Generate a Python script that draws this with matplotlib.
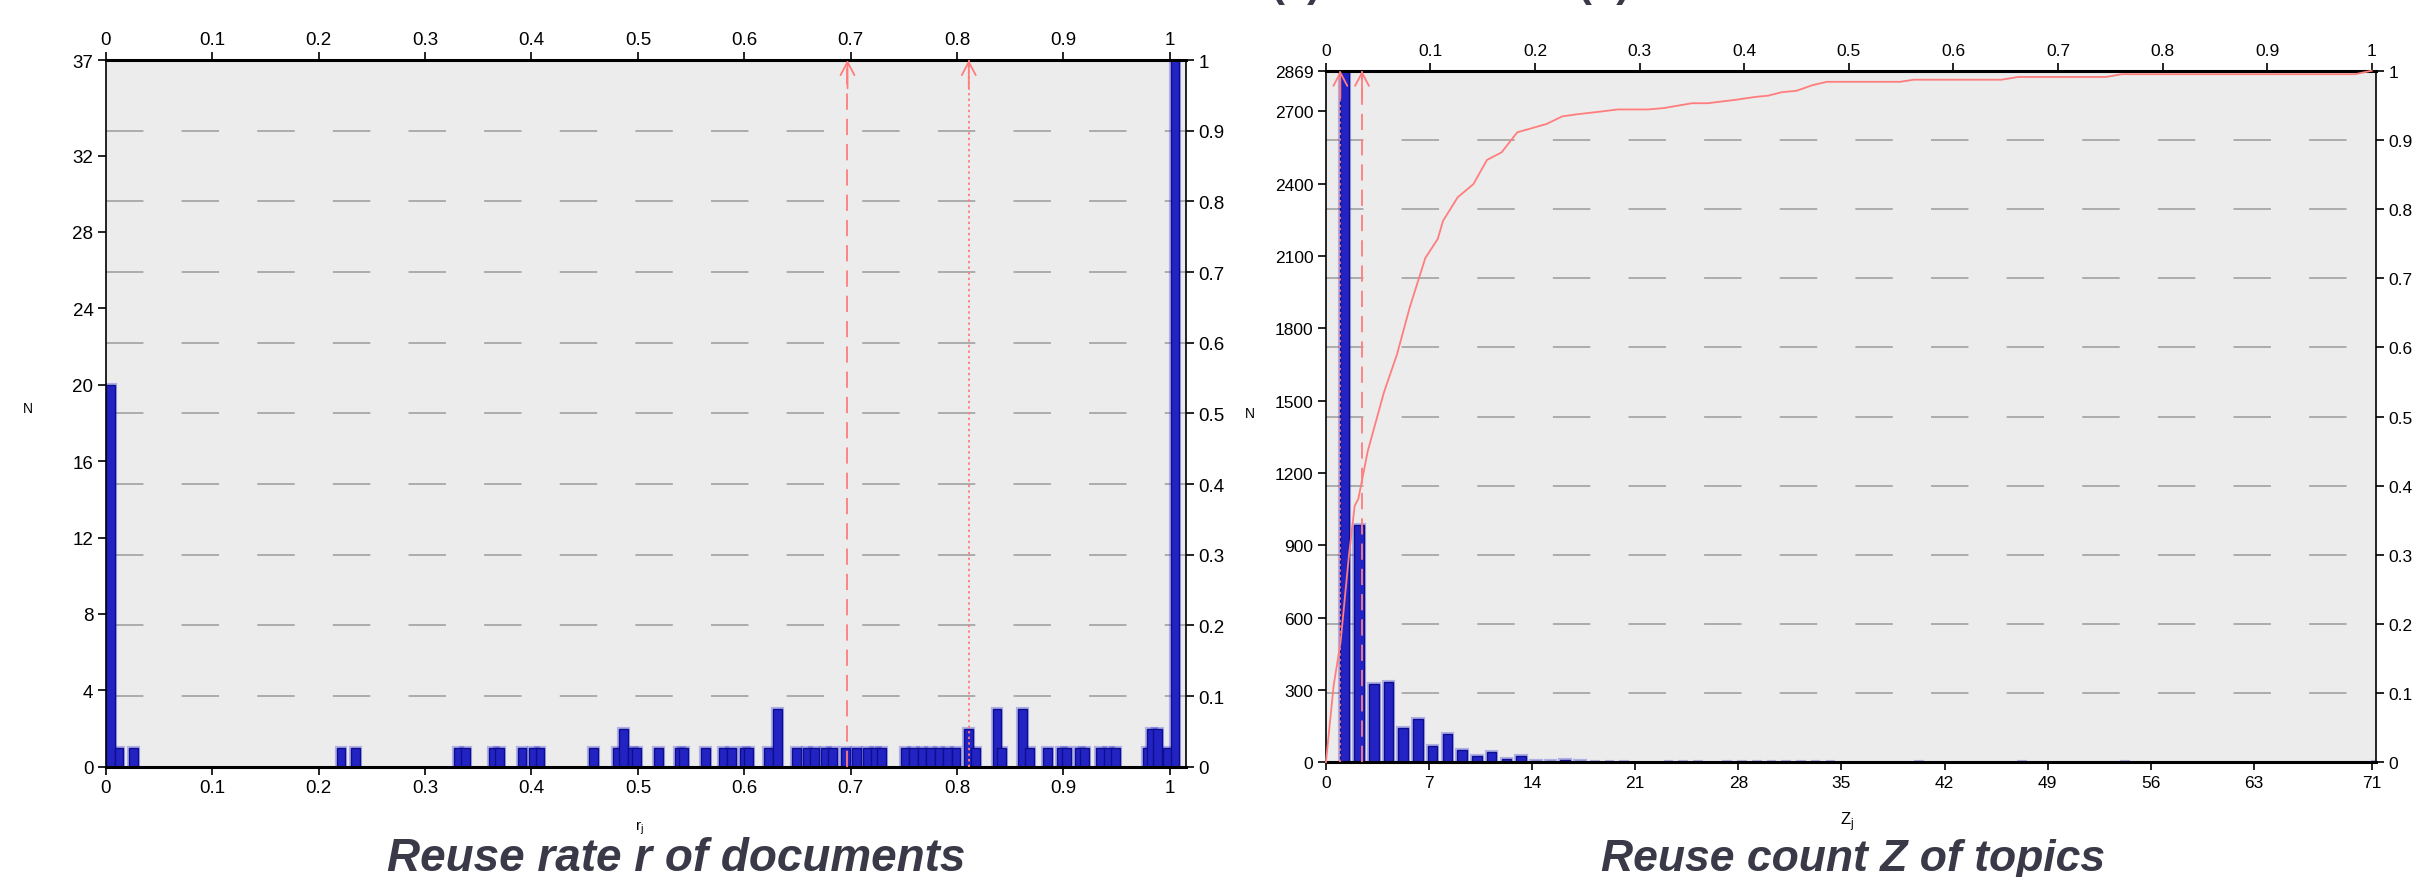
import numpy as np
import matplotlib
matplotlib.use("Agg")
import matplotlib.pyplot as plt

plt.rcParams["font.family"] = ["Liberation Sans", "DejaVu Sans"]

# ---- left panel: reuse rate r_j of documents (bar centres / counts) ----
r_pos = [0.004, 0.0122, 0.026, 0.221, 0.2345, 0.331, 0.338, 0.364, 0.370,
         0.391, 0.402, 0.408, 0.458, 0.481, 0.4865, 0.495, 0.499, 0.5196,
         0.539, 0.543, 0.5635, 0.580, 0.588, 0.600, 0.604, 0.623, 0.631,
         0.6494, 0.659, 0.666, 0.676, 0.683, 0.695, 0.7055, 0.716, 0.723,
         0.729, 0.751, 0.759, 0.767, 0.775, 0.783, 0.791, 0.799, 0.811,
         0.817, 0.8376, 0.842, 0.8617, 0.868, 0.885, 0.898, 0.903, 0.915,
         0.920, 0.935, 0.942, 0.949, 0.979, 0.9825, 0.9887, 0.998, 1.0048]
r_cnt = [20, 1, 1, 1, 1, 1, 1, 1, 1,
         1, 1, 1, 1, 1, 2, 1, 1, 1,
         1, 1, 1, 1, 1, 1, 1, 1, 3,
         1, 1, 1, 1, 1, 1, 1, 1, 1,
         1, 1, 1, 1, 1, 1, 1, 1, 2,
         1, 3, 1, 3, 1, 1, 1, 1, 1,
         1, 1, 1, 1, 1, 2, 2, 1, 37]
r_ymax = 37
r_yticks = [0, 4, 8, 12, 16, 20, 24, 28, 32, 37]
r_xticks = [0, 0.1, 0.2, 0.3, 0.4, 0.5, 0.6, 0.7, 0.8, 0.9, 1]
r_dashed = 0.697
r_dotted = 0.811

# ---- right panel: reuse count Z_j of topics ----
z_pos = [1, 2, 3, 4, 5, 6, 7, 8, 9, 10, 11, 12, 13, 14, 15, 16, 17, 18, 19,
         20, 23, 24, 25, 27, 28, 29, 30, 31, 32, 33, 34, 40, 47, 54, 71]
z_cnt = [2869, 985, 327, 335, 141, 180, 66, 117, 53, 25, 42, 13, 28, 5, 6, 8,
         5, 3, 3, 3, 3, 3, 3, 2, 2, 3, 2, 2, 2, 3, 3, 2, 2, 2, 2]
z_ymax = 2869
z_yticks = [0, 300, 600, 900, 1200, 1500, 1800, 2100, 2400, 2700, 2869]
z_xticks = [0, 7, 14, 21, 28, 35, 42, 49, 56, 63, 71]
z_dashed = 2.45
z_dotted = 0.98

# cumulative curve (top axis 0..1, right axis 0..1)
cum_x = [0, 0.0074, 0.014, 0.022, 0.0275, 0.031, 0.040, 0.0555, 0.068, 0.080,
         0.095, 0.107, 0.112, 0.126, 0.141, 0.154, 0.168, 0.183, 0.197, 0.211,
         0.226, 0.240, 0.263, 0.279, 0.308, 0.323, 0.350, 0.365, 0.392, 0.410,
         0.423, 0.436, 0.450, 0.465, 0.479, 0.549, 0.562, 0.646, 0.662, 0.746,
         0.761, 0.984, 1.0]
cum_y = [0, 0.111, 0.1735, 0.299, 0.371, 0.381, 0.45, 0.535, 0.59, 0.657,
         0.729, 0.757, 0.783, 0.817, 0.836, 0.871, 0.882, 0.911, 0.917, 0.923,
         0.934, 0.937, 0.941, 0.944, 0.944, 0.946, 0.953, 0.953, 0.958, 0.962,
         0.964, 0.969, 0.971, 0.979, 0.984, 0.984, 0.987, 0.987, 0.991, 0.991,
         0.995, 0.995, 1.0]

frac_ticks = [0, 0.1, 0.2, 0.3, 0.4, 0.5, 0.6, 0.7, 0.8, 0.9, 1]
frac_labels = ["0", "0.1", "0.2", "0.3", "0.4", "0.5", "0.6", "0.7", "0.8", "0.9", "1"]

BG = "#ececec"
BAR = "#2323c4"
BAR_EDGE = "#0d0d90"
RED = "#ff7d7d"
GRID = "#9a9a9a"
TITLE = "#393948"


def fmt(v):
    return "%g" % v


def setup_panel(fig, rect, xmax, ymax, xticks, yticks, top_max, fs):
    ax = fig.add_axes(rect)
    ax.set_facecolor(BG)
    ax.set_xlim(0, xmax)
    ax.set_ylim(0, ymax)
    ax.set_xticks(xticks)
    ax.set_xticklabels([fmt(t) for t in xticks])
    ax.set_yticks(yticks)
    ax.set_yticklabels([fmt(t) for t in yticks])
    ax.tick_params(direction="out", length=6, width=1.2, labelsize=fs, pad=3)
    for s in ["top", "bottom"]:
        ax.spines[s].set_linewidth(2.2)
    for s in ["left", "right"]:
        ax.spines[s].set_linewidth(1.2)

    axr = ax.twinx()
    axr.set_ylim(0, 1)
    axr.set_yticks(frac_ticks)
    axr.set_yticklabels(frac_labels)
    axt = ax.twiny()
    axt.set_xlim(0, top_max)
    axt.set_xticks(frac_ticks)
    axt.set_xticklabels(frac_labels)
    for a in (axr, axt):
        a.tick_params(direction="out", length=6, width=1.2, labelsize=fs, pad=3)
        for s in a.spines.values():
            s.set_visible(False)

    # dashed grid at the right-hand ticks
    for f in frac_ticks[1:-1]:
        ax.axhline(f * ymax, color=GRID, lw=1.1, ls=(0, (24.5, 25)), zorder=0.5)
    return ax


def draw_bars(ax, x, h, w):
    ax.bar(x, h, width=w, color="none", edgecolor=(0.25, 0.25, 0.85, 0.35),
           linewidth=3, zorder=1.5)
    ax.bar(x, h, width=w, color=BAR, edgecolor=BAR_EDGE, linewidth=1, zorder=2)


def red_marker(ax, x, ytop, ls):
    ax.plot([x, x], [0, ytop], color=RED, lw=1.3, ls=ls, zorder=3)
    ax.annotate("", xy=(x, ytop), xytext=(x, ytop * 0.96),
                arrowprops=dict(arrowstyle="->, head_length=0.38, head_width=0.2",
                                color=RED, lw=1.3, shrinkA=0, shrinkB=0,
                                mutation_scale=25),
                zorder=3, annotation_clip=False)


fig = plt.figure(figsize=(24.2, 8.78), dpi=100)

# left panel
r_xmax = 1.0151
ax1 = setup_panel(fig, [0.04376, 0.1256, 0.4463, 0.8049], r_xmax, r_ymax,
                  r_xticks, r_yticks, r_xmax, 13.5)
draw_bars(ax1, r_pos, r_cnt, 0.0082)
red_marker(ax1, r_dashed, r_ymax, (0, (9, 5)))
red_marker(ax1, r_dotted, r_ymax, (0, (1.3, 1.8)))

# right panel
z_xmax = 71.29
rect2 = [0.5479, 0.1306, 0.4339, 0.7877]
ax2 = setup_panel(fig, rect2, z_xmax, z_ymax, z_xticks, z_yticks, z_xmax / 71, 12.5)
draw_bars(ax2, np.array(z_pos) + 0.25, z_cnt, 0.65)
red_marker(ax2, z_dotted, z_ymax, (0, (1.3, 1.8)))
red_marker(ax2, z_dashed, z_ymax, (0, (9, 5)))

axc = fig.add_axes(rect2)
axc.patch.set_visible(False)
axc.set_xlim(0, z_xmax / 71)
axc.set_ylim(0, 1)
axc.axis("off")
axc.plot(cum_x, cum_y, color=RED, lw=1.3, clip_on=False)

# axis labels
fig.text(28 / 2420, 1 - 409 / 878, "N", fontsize=10, ha="center", va="center")
fig.text(1250 / 2420, 1 - 414 / 878, "N", fontsize=10, ha="center", va="center")
fig.text(639 / 2420, 1 - 828 / 878, r"r$_\mathregular{j}$", fontsize=11,
         ha="center", va="center")
fig.text(1847 / 2420, 1 - 822 / 878, r"Z$_\mathregular{j}$", fontsize=12,
         ha="center", va="center")

# panel titles
fig.text(676 / 2420, 0.008, "Reuse rate r of documents", fontsize=33,
         fontweight="bold", fontstyle="italic", color=TITLE, ha="center",
         va="baseline")
fig.text(1853 / 2420, 0.008, "Reuse count Z of topics", fontsize=32,
         fontweight="bold", fontstyle="italic", color=TITLE, ha="center",
         va="baseline")
# bottoms of the heading above, cut by the figure edge
fig.text(1296 / 2420, 1 + 4 / 878, "(a)", fontsize=30, fontweight="bold",
         color=TITLE, ha="center", va="baseline")
fig.text(1604 / 2420, 1 + 4 / 878, "(b)", fontsize=30, fontweight="bold",
         color=TITLE, ha="center", va="baseline")

fig.savefig("out.png", dpi=100)
